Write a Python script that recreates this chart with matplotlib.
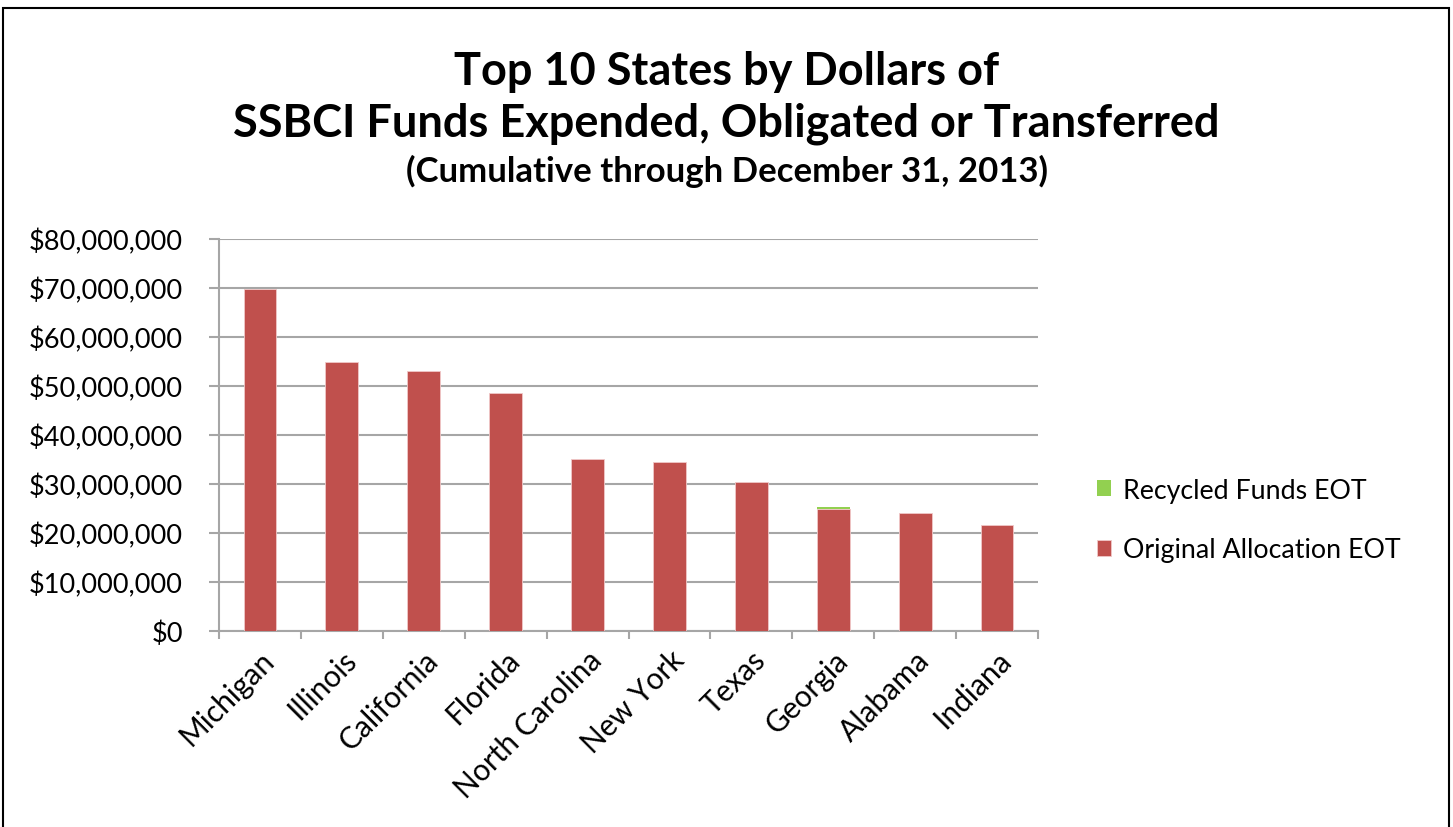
import matplotlib.pyplot as plt
import numpy as np
from matplotlib.patches import Rectangle
from matplotlib.ticker import FuncFormatter, FixedLocator

plt.rcParams['font.family'] = ['Lato', 'DejaVu Sans']

states = ['Michigan', 'Illinois', 'California', 'Florida', 'North Carolina',
          'New York', 'Texas', 'Georgia', 'Alabama', 'Indiana']
# values in dollars
original = [69.8e6, 55.0e6, 53.1e6, 48.5e6, 35.1e6, 34.4e6, 30.5e6, 25.0e6, 24.0e6, 21.6e6]
recycled = [0, 0, 0, 0, 0, 0, 0, 0.3e6, 0, 0]

red = '#C0504D'
green = '#92D050'
grey = '#A6A6A6'

fig = plt.figure(figsize=(14.53, 8.28), dpi=100)
ax = fig.add_axes([219/1453, 1-632/828, (1038-219)/1453, (632-240)/828])

x = np.arange(len(states))
b1 = ax.bar(x, original, width=0.4, color=red, edgecolor='#f0c8c8', linewidth=0.6,
            label='Original Allocation EOT', zorder=3)
b2 = ax.bar(x, recycled, width=0.4, bottom=original, color=green, linewidth=0,
            label='Recycled Funds EOT', zorder=3)

ax.set_xlim(-0.5, len(states)-0.5)
ax.set_ylim(0, 80e6)
ax.set_yticks(np.arange(0, 80e6+1, 10e6))
ax.yaxis.set_major_formatter(FuncFormatter(lambda v, p: '${:,.0f}'.format(v)))
ax.yaxis.grid(True, color=grey, linewidth=1.5, zorder=0)
ax.tick_params(axis='y', length=7, width=1.5, color=grey, labelsize=19.5, pad=19)

ax.set_xticks(x)
ax.set_xticklabels(states, rotation=45, ha='right', rotation_mode='anchor', fontsize=21.5)
ax.tick_params(axis='x', length=0, pad=10)
ax.xaxis.set_minor_locator(FixedLocator(np.arange(-0.5, len(states), 1.0)))
ax.tick_params(axis='x', which='minor', length=6, width=1.5, color=grey)

for s in ['top', 'right']:
    ax.spines[s].set_visible(False)
for s in ['left', 'bottom']:
    ax.spines[s].set_color(grey)
    ax.spines[s].set_linewidth(1.5)

handles = [b2, b1]
leg = fig.legend(handles, [h.get_label() for h in handles], loc='center left',
                 bbox_to_anchor=(1073/1453, 1-521/828), frameon=False,
                 fontsize=19.3, handlelength=0.5, handleheight=0.5, handletextpad=0.45,
                 labelspacing=1.3)

fig.text(0.5, 1-72/828, 'Top 10 States by Dollars of', ha='center', va='center',
         fontsize=32.5, fontweight='bold')
fig.text(0.5, 1-124/828, 'SSBCI Funds Expended, Obligated or Transferred', ha='center',
         va='center', fontsize=32.5, fontweight='bold')
fig.text(0.5, 1-171/828, '(Cumulative through December 31, 2013)', ha='center',
         va='center', fontsize=25, fontweight='bold')

fig.patches.append(Rectangle((3/1453, -0.05), (1449-3)/1453, 1.05-9/828,
                             transform=fig.transFigure, fill=False,
                             edgecolor='black', linewidth=1.5))

fig.savefig('out.png', dpi=100, facecolor='white')
